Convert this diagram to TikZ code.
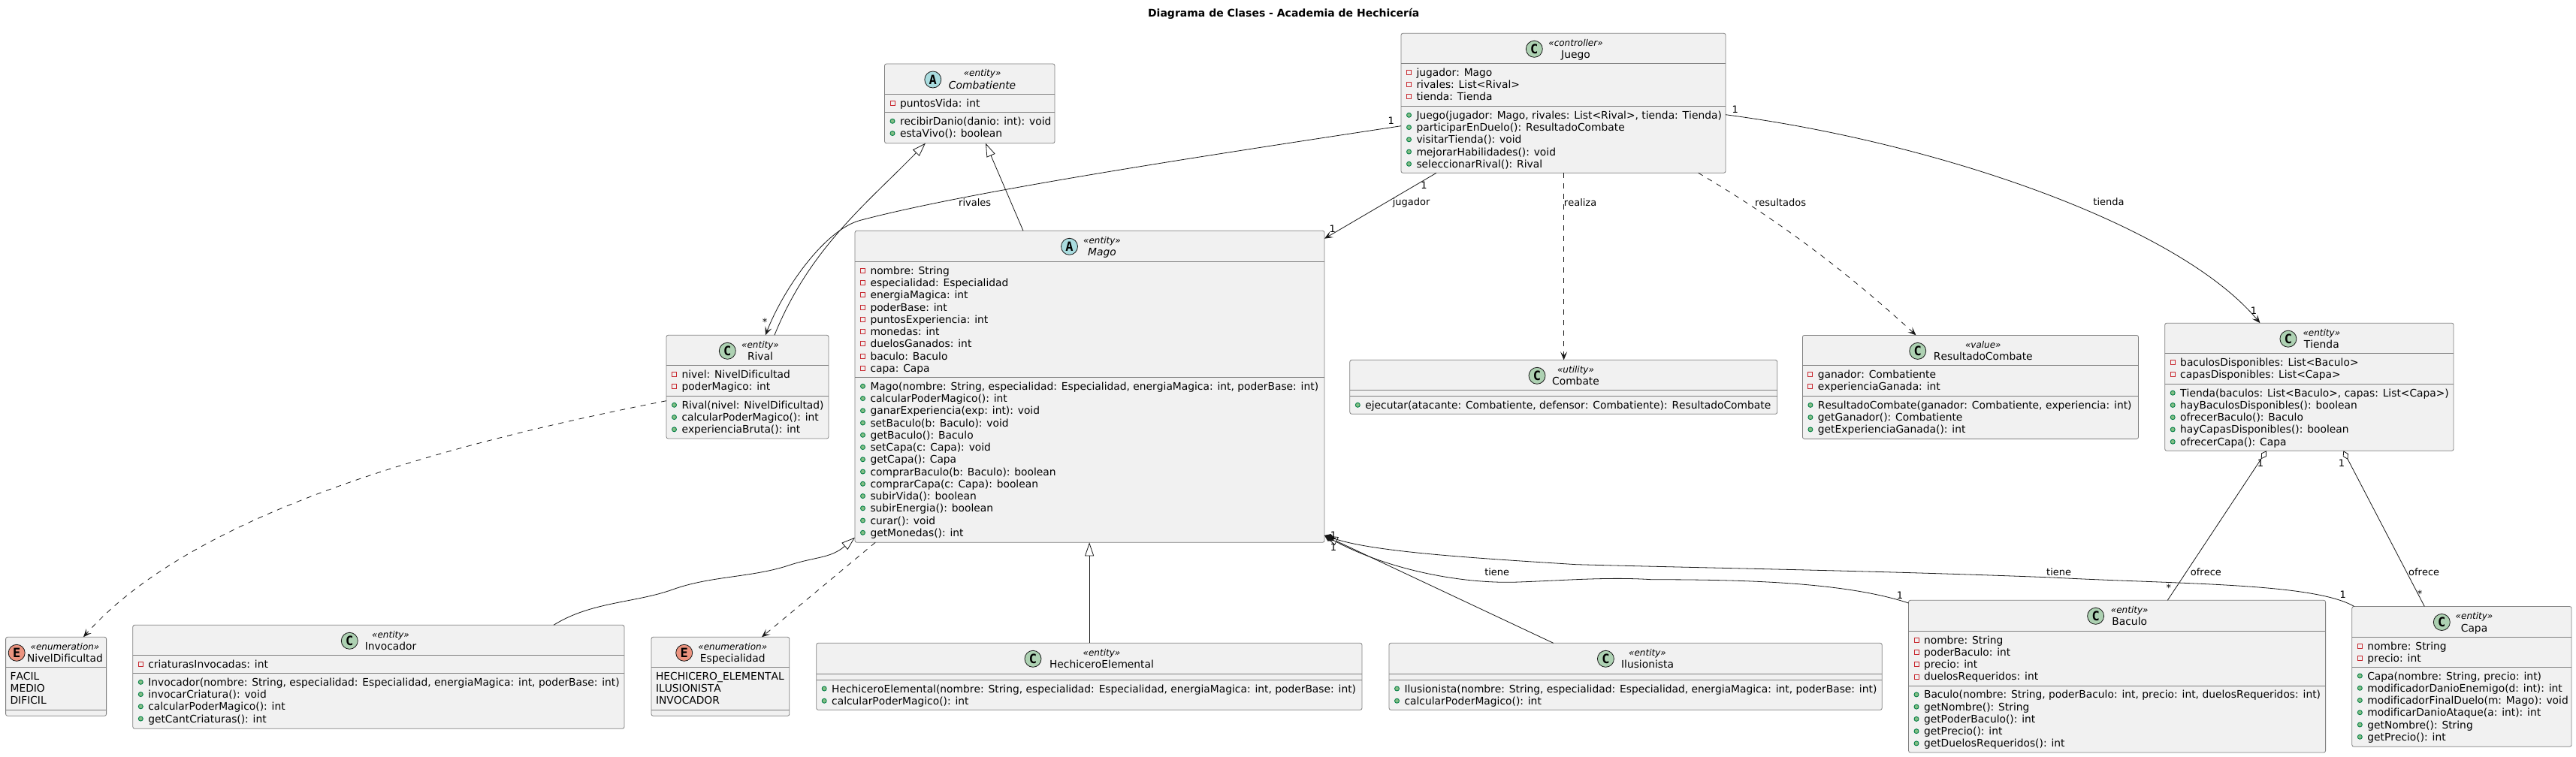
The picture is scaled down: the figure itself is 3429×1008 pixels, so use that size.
\documentclass[tikz,border=0pt]{standalone}
\usepackage{fontspec}
\setmainfont{DejaVu Sans}[Ligatures=CommonOff,Kerning=Off]
\newfontfamily\iconfont{DejaVu Sans Mono}[Ligatures=CommonOff]
\usetikzlibrary{arrows.meta,calc}
\definecolor{boxfill}{HTML}{F1F1F1}
\definecolor{boxline}{HTML}{7F7F7F}
\definecolor{linkline}{HTML}{181818}
\definecolor{iconC}{HTML}{ADD1B2}
\definecolor{iconA}{HTML}{A9DCDF}
\definecolor{iconE}{HTML}{EB937F}
\definecolor{privline}{HTML}{C82930}
\definecolor{publine}{HTML}{038048}
\definecolor{pubfill}{HTML}{84BE84}
\tikzset{
  classframe/.style={draw=boxline,fill=boxfill,line width=.8pt,rounded corners=2.5pt,inner sep=0pt,outer sep=0pt,anchor=north west},
  sepline/.style={draw=boxline,line width=.8pt},
  rowtext/.style={anchor=base west,inner sep=0pt,outer sep=0pt,text=black,font=\fontsize{13.82}{16}\selectfont},
  stereotext/.style={anchor=base,inner sep=0pt,outer sep=0pt,font=\fontsize{12}{14}\selectfont\itshape},
  nametext/.style={anchor=base,inner sep=0pt,outer sep=0pt,font=\fontsize{13.82}{16}\selectfont},
  icontext/.style={inner sep=0pt,outer sep=0pt,font=\fontsize{17}{18}\selectfont\iconfont\bfseries},
  elabel/.style={inner sep=0pt,outer sep=0pt,font=\fontsize{13}{15}\selectfont},
  titletext/.style={inner sep=0pt,outer sep=0pt,font=\fontsize{14}{16}\selectfont\bfseries},
  link/.style={draw=linkline,line width=.8pt},
  dep/.style={link,dash pattern=on 7pt off 7pt},
  opentip/.style={-{Stealth[length=11pt,width=9pt,inset=5pt,fill=linkline]}},
  exttip/.style={-{Triangle[open,length=18pt,width=12pt,fill=white]}},
  compotip/.style={{Diamond[length=15pt,width=9pt,fill=linkline]}-},
  aggrtip/.style={{Diamond[open,length=13pt,width=8pt,fill=white]}-},
}
\newcounter{rowno}
% frame: id, x1, y1, x2, y2, header bottom, attribute bottom
\newcommand\umlframe[7]{%
  \pgfmathsetmacro\fw{#4-#2}\pgfmathsetmacro\fh{#5-#3}%
  \node[classframe,minimum width=\fw pt,minimum height=\fh pt] (#1) at (#2,#3) {};
  \draw[sepline] (#2,#6) -- (#4,#6);
  \draw[sepline] (#2,#7) -- (#4,#7);
  \xdef\curid{#1}\xdef\curleft{#2}\xdef\curtop{#3}\xdef\curhead{#6}\xdef\curattr{#7}%
  \setcounter{rowno}{0}%
}
% head: letter, colour, icon x, text x, stereotype, name
\newcommand\umlhead[6]{%
  \pgfmathsetmacro\iy{\curtop+21}\pgfmathsetmacro\sy{\curtop+17}\pgfmathsetmacro\ny{\curtop+33.5}%
  \draw[draw=linkline,line width=.8pt,fill=#2] (#3,\iy) circle[radius=11pt];
  \node[icontext] (\curid-icon) at (#3,\iy) {#1};
  \node[stereotext] (\curid-st) at (#4,\sy) {«#5»};
  \node[nametext] (\curid-nm) at (#4,\ny) {#6};
}
\newcommand\setsection[1]{\xdef\rowbase{#1}\gdef\rowidx{0}}
\newcommand\nextbase{%
  \pgfmathsetmacro\by{\rowbase+17+16.25*\rowidx}\xdef\rowy{\by}%
  \pgfmathtruncatemacro\ni{\rowidx+1}\xdef\rowidx{\ni}\stepcounter{rowno}%
}
\newcommand\priv[1]{\nextbase
  \pgfmathsetmacro\ix{\curleft+10.5}\pgfmathsetmacro\iy{\rowy-5}\pgfmathsetmacro\tx{\curleft+20.5}%
  \draw[draw=privline,line width=.9pt] ($(\ix,\iy)+(-3,-3)$) rectangle ($(\ix,\iy)+(3,3)$);
  \node[rowtext] (\curid-r\therowno) at (\tx,\rowy) {#1};
}
\newcommand\pub[1]{\nextbase
  \pgfmathsetmacro\ix{\curleft+10.5}\pgfmathsetmacro\iy{\rowy-5}\pgfmathsetmacro\tx{\curleft+20.5}%
  \draw[draw=publine,line width=.9pt,fill=pubfill] (\ix,\iy) circle[radius=3pt];
  \node[rowtext] (\curid-r\therowno) at (\tx,\rowy) {#1};
}
\newcommand\lit[1]{\nextbase
  \pgfmathsetmacro\tx{\curleft+6}%
  \node[rowtext] (\curid-r\therowno) at (\tx,\rowy) {#1};
}
\begin{document}
\begin{tikzpicture}[x=1pt,y=-1pt]
\useasboundingbox (0,0) rectangle (3429,1008);
\fill[white] (0,0) rectangle (3429,1008);
\node[titletext] (title) at (1708.7,18) {Diagrama de Clases - Academia de Hechicería};

% Combatiente
\umlframe{combatiente}{1177.5}{85}{1404}{190.7}{125.7}{149.3}
\umlhead{A}{iconA}{1241.8}{1307.6}{entity}{\itshape Combatiente}
\setsection{125.7}\priv{puntosVida: int}
\setsection{149.3}\pub{recibirDanio(danio: int): void}\pub{estaVivo(): boolean}

% Juego
\umlframe{juego}{1865}{44.3}{2297}{230.3}{84.3}{141.3}
\umlhead{C}{iconC}{2042.3}{2097.5}{controller}{Juego}
\setsection{84.3}\priv{jugador: Mago}\priv{rivales: List<Rival>}\priv{tienda: Tienda}
\setsection{141.3}\pub{Juego(jugador: Mago, rivales: List<Rival>, tienda: Tienda)}\pub{participarEnDuelo(): ResultadoCombate}\pub{visitarTienda(): void}\pub{mejorarHabilidades(): void}\pub{seleccionarRival(): Rival}

% Mago
\umlframe{mago}{1138}{307.3}{1763}{722.3}{348.3}{502.3}
\umlhead{A}{iconA}{1423.5}{1467}{entity}{\itshape Mago}
\setsection{348.3}\priv{nombre: String}\priv{especialidad: Especialidad}\priv{energiaMagica: int}\priv{poderBase: int}\priv{puntosExperiencia: int}\priv{monedas: int}\priv{duelosGanados: int}\priv{baculo: Baculo}\priv{capa: Capa}
\setsection{502.3}\pub{Mago(nombre: String, especialidad: Especialidad, energiaMagica: int, poderBase: int)}\pub{calcularPoderMagico(): int}\pub{ganarExperiencia(exp: int): void}\pub{setBaculo(b: Baculo): void}\pub{getBaculo(): Baculo}\pub{setCapa(c: Capa): void}\pub{getCapa(): Capa}\pub{comprarBaculo(b: Baculo): boolean}\pub{comprarCapa(c: Capa): boolean}\pub{subirVida(): boolean}\pub{subirEnergia(): boolean}\pub{curar(): void}\pub{getMonedas(): int}

% Rival
\umlframe{rival}{887}{446.3}{1103}{584}{486.3}{527.3}
\umlhead{C}{iconC}{968.3}{1012}{entity}{Rival}
\setsection{486.3}\priv{nivel: NivelDificultad}\priv{poderMagico: int}
\setsection{527.3}\pub{Rival(nivel: NivelDificultad)}\pub{calcularPoderMagico(): int}\pub{experienciaBruta(): int}

% NivelDificultad
\umlframe{nivel}{7.6}{848.3}{141.6}{953.3}{888.3}{945.3}
\umlhead{E}{iconE}{22.2}{86.5}{enumeration}{NivelDificultad}
\setsection{888.3}\lit{FACIL}\lit{MEDIO}\lit{DIFICIL}

% Invocador
\umlframe{invocador}{176.8}{832.3}{831}{970.3}{872.3}{896.3}
\umlhead{C}{iconC}{465.3}{520}{entity}{Invocador}
\setsection{872.3}\priv{criaturasInvocadas: int}
\setsection{896.3}\pub{Invocador(nombre: String, especialidad: Especialidad, energiaMagica: int, poderBase: int)}\pub{invocarCriatura(): void}\pub{calcularPoderMagico(): int}\pub{getCantCriaturas(): int}

% Especialidad
\umlframe{especialidad}{867}{848.3}{1050.8}{953.3}{888.3}{945.3}
\umlhead{E}{iconE}{910.7}{975.3}{enumeration}{Especialidad}
\setsection{888.3}\lit{HECHICERO\_ELEMENTAL}\lit{ILUSIONISTA}\lit{INVOCADOR}

% HechiceroElemental
\umlframe{hechicero}{1086.7}{856.3}{1813}{945.3}{897}{905}
\umlhead{C}{iconC}{1375}{1466.5}{entity}{HechiceroElemental}
\setsection{905}\pub{HechiceroElemental(nombre: String, especialidad: Especialidad, energiaMagica: int, poderBase: int)}\pub{calcularPoderMagico(): int}

% Ilusionista
\umlframe{ilusionista}{1849}{856.3}{2505.2}{945.3}{897}{905}
\umlhead{C}{iconC}{2137.4}{2193}{entity}{Ilusionista}
\setsection{905}\pub{Ilusionista(nombre: String, especialidad: Especialidad, energiaMagica: int, poderBase: int)}\pub{calcularPoderMagico(): int}

% Combate
\umlframe{combate}{1796.8}{479.3}{2365.7}{551.3}{519.3}{527.3}
\umlhead{C}{iconC}{2046}{2097.5}{utility}{Combate}
\setsection{527.3}\pub{ejecutar(atacante: Combatiente, defensor: Combatiente): ResultadoCombate}

% ResultadoCombate
\umlframe{resultado}{2399.4}{446.4}{2846.5}{584.4}{486.4}{527.4}
\umlhead{C}{iconC}{2552.7}{2639.8}{value}{ResultadoCombate}
\setsection{486.4}\priv{ganador: Combatiente}\priv{experienciaGanada: int}
\setsection{527.4}\pub{ResultadoCombate(ganador: Combatiente, experiencia: int)}\pub{getGanador(): Combatiente}\pub{getExperienciaGanada(): int}

% Tienda
\umlframe{tienda}{2881.7}{430.2}{3266}{600.3}{470.3}{511.2}
\umlhead{C}{iconC}{3045.9}{3090.3}{entity}{Tienda}
\setsection{470.3}\priv{baculosDisponibles: List<Baculo>}\priv{capasDisponibles: List<Capa>}
\setsection{511.2}\pub{Tienda(baculos: List<Baculo>, capas: List<Capa>)}\pub{hayBaculosDisponibles(): boolean}\pub{ofrecerBaculo(): Baculo}\pub{hayCapasDisponibles(): boolean}\pub{ofrecerCapa(): Capa}

% Baculo
\umlframe{baculo}{2540.5}{799.3}{3095.6}{1002}{840.2}{912.9}
\umlhead{C}{iconC}{2789.6}{2834.7}{entity}{Baculo}
\setsection{840.2}\priv{nombre: String}\priv{poderBaculo: int}\priv{precio: int}\priv{duelosRequeridos: int}
\setsection{912.9}\pub{Baculo(nombre: String, poderBaculo: int, precio: int, duelosRequeridos: int)}\pub{getNombre(): String}\pub{getPoderBaculo(): int}\pub{getPrecio(): int}\pub{getDuelosRequeridos(): int}

% Capa
\umlframe{capa}{3130.8}{807.5}{3423}{994.3}{848}{888}
\umlhead{C}{iconC}{3250.3}{3293.5}{entity}{Capa}
\setsection{848}\priv{nombre: String}\priv{precio: int}
\setsection{888}\pub{Capa(nombre: String, precio: int)}\pub{modificadorDanioEnemigo(d: int): int}\pub{modificadorFinalDuelo(m: Mago): void}\pub{modificarDanioAtaque(a: int): int}\pub{getNombre(): String}\pub{getPrecio(): int}

% Connectors
\draw[link,exttip] (1030.9,0 |- rival.north) .. controls (1078,330) and (1155,270) .. (1231.9,0 |- combatiente.south);
\draw[link,exttip] (1362,0 |- mago.north) -- (1312,0 |- combatiente.south);
\draw[link,opentip] (juego.west |- 0,167.7) .. controls (1600,208) and (1290,255) .. (1145.4,293.3) .. controls (1100,305) and (1045,380) .. (1018.8,0 |- rival.north);
\draw[link,opentip] (1912,0 |- juego.south) -- (mago.east |- 0,317.7);
\draw[dep,opentip] (2081.6,0 |- juego.south) -- (2081.6,0 |- combate.north);
\draw[dep,opentip] (2260.7,0 |- juego.south) .. controls (2345,280) and (2440,345) .. (2550.5,0 |- resultado.north);
\draw[link,opentip] (juego.east |- 0,152.7) .. controls (2580,190) and (2900,300) .. (3008.4,0 |- tienda.north);
\draw[dep,opentip] (rival.west |- 0,533.7) .. controls (600,590) and (260,680) .. (111,0 |- nivel.north);
\draw[dep,opentip] (1165.2,0 |- mago.south) -- (1014,0 |- especialidad.north);
\draw[link,exttip] (737,0 |- invocador.north) .. controls (787,801) and (845,803) .. (895.4,785) .. controls (945,767) and (1000,769) .. (1048.5,753.3) .. controls (1085,741) and (1105,744) .. (mago.west |- 0,715.7);
\draw[link,exttip] (1450.1,0 |- hechicero.north) -- (1450.1,0 |- mago.south);
\draw[link,exttip] (2067.7,0 |- ilusionista.north) -- (mago.east |- 0,713);
\draw[link,compotip] (mago.east |- 0,713) .. controls (1850,760) and (1950,778) .. (2021.8,775) .. controls (2080,773) and (2140,768) .. (2197.8,771.7) .. controls (2300,772) and (2450,773) .. (baculo.west |- 0,803);
\draw[link,compotip] (mago.east |- 0,713) .. controls (1830,735) and (1960,743) .. (2098,751.7) .. controls (2300,757) and (2500,760) .. (2732,769) .. controls (2900,778) and (3080,776) .. (3133.7,0 |- capa.north);
\draw[link,aggrtip] (3017,0 |- tienda.south) -- (2885.3,0 |- baculo.north);
\draw[link,aggrtip] (3119.3,0 |- tienda.south) -- (3227.3,0 |- capa.north);

% Connector labels
\node[elabel] (l-rivales) at (1297.7,270) {rivales};
\node[elabel] (l-jugador) at (1878.6,270) {jugador};
\node[elabel] (l-realiza) at (2103.6,270) {realiza};
\node[elabel] (l-resultados) at (2370,270) {resultados};
\node[elabel] (l-tienda) at (2807,269) {tienda};
\node[elabel] (l-tiene1) at (1992.7,761.7) {tiene};
\node[elabel] (l-tiene2) at (2740.6,761.5) {tiene};
\node[elabel] (l-ofrece1) at (2936.4,761.5) {ofrece};
\node[elabel] (l-ofrece2) at (3226.6,761.5) {ofrece};
\node[elabel] (m-1) at (1851.8,160.7) {1};
\node[elabel] (m-2) at (1018,429) {*};
\node[elabel] (m-3) at (1895.4,246.7) {1};
\node[elabel] (m-4) at (1773.7,305) {1};
\node[elabel] (m-5) at (2309.7,145.7) {1};
\node[elabel] (m-6) at (3000,414) {1};
\node[elabel] (m-7) at (1775,713) {1};
\node[elabel] (m-8) at (1775,729) {1};
\node[elabel] (m-9) at (2529,793) {1};
\node[elabel] (m-10) at (3118.6,792) {1};
\node[elabel] (m-11) at (3009,616.6) {1};
\node[elabel] (m-12) at (2886.8,783) {*};
\node[elabel] (m-13) at (3117,616.6) {1};
\node[elabel] (m-14) at (3221,791) {*};
\end{tikzpicture}
\end{document}
